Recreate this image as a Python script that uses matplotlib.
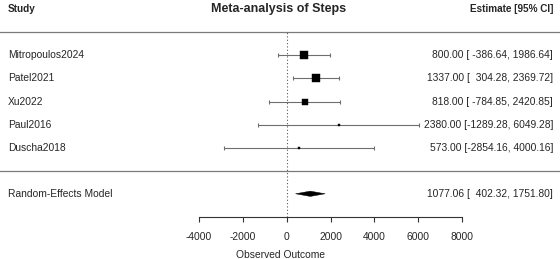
import matplotlib
matplotlib.use("Agg")
import matplotlib.pyplot as plt
import matplotlib.transforms as mtransforms
import numpy as np

plt.rcParams['font.family'] = ['Liberation Sans', 'DejaVu Sans']

# ---- data ----
studies = ["Mitropoulos2024", "Patel2021", "Xu2022", "Paul2016", "Duscha2018"]
estimates = [800.00, 1337.00, 818.00, 2380.00, 573.00]
ci_lower = [-386.64, 304.28, -784.85, -1289.28, -2854.16]
ci_upper = [1986.64, 2369.72, 2420.85, 6049.28, 4000.16]
re_label = "Random-Effects Model"
re_est = 1077.06
re_lower = 402.32
re_upper = 1751.80
xticks = [-4000, -2000, 0, 2000, 4000, 6000, 8000]
title = "Meta-analysis of Steps"
xlabel = "Observed Outcome"

# inverse-variance weights derived from the CIs (used for square sizes)
se = [(u - l) / 3.92 for l, u in zip(ci_lower, ci_upper)]
weights = [1 / s**2 for s in se]

k = len(studies)
rows = list(range(k, 0, -1))

fig = plt.figure(figsize=(5.6, 2.59), dpi=100)
ax = fig.add_axes([0, 0, 1, 1])

# pixel mapping: x=0 at px 286.7, 12000 units = 263.2 px
ppu = 263.2 / 12000
ax.set_xlim(-286.7 / ppu, (560 - 286.7) / ppu)
rowpx = 23.07
ax.set_ylim(-(259 - 170.7) / rowpx, 6 + 32.3 / rowpx)

line_col = '#7a7a7a'
txt_col = '#262626'
ci_col = '#6e6e6e'

# horizontal separators
ax.axhline(k + 1, color=line_col, lw=0.9)
ax.axhline(0, color=line_col, lw=0.9)

# reference line at 0
ax.plot([0, 0], [-2, k + 1], color='#555555', lw=0.8, linestyle=(0, (1, 2)))

# CIs
ax.errorbar(estimates, rows,
            xerr=[np.array(estimates) - np.array(ci_lower),
                  np.array(ci_upper) - np.array(estimates)],
            fmt='none', ecolor=ci_col, elinewidth=0.8, capsize=1.6, capthick=0.8)

wmax = max(weights)
for x, y, w in zip(estimates, rows, weights):
    ax.plot(x, y, marker='s', markersize=6.3 * np.sqrt(w / wmax),
            color='black', mec='black', mew=0.3, linestyle='none')

# summary diamond
h = 0.115
ax.fill([re_lower, re_est, re_upper, re_est], [-1, -1 + h, -1, -1 - h],
        color='black', lw=0.3, edgecolor='black')

# text
trans = mtransforms.blended_transform_factory(ax.transAxes, ax.transData)
fs = 7.4
for s, y in zip(studies, rows):
    ax.text(8 / 560, y, s, transform=trans, ha='left', va='center', fontsize=fs, color=txt_col)
ax.text(8 / 560, -1, re_label, transform=trans, ha='left', va='center', fontsize=fs, color=txt_col)

for e, l, u, y in zip(estimates, ci_lower, ci_upper, rows):
    ax.text(553 / 560, y, f"{e:.2f} [{l:8.2f}, {u:7.2f}]", transform=trans,
            ha='right', va='center', fontsize=fs, color=txt_col)
ax.text(553 / 560, -1, f"{re_est:.2f} [{re_lower:8.2f}, {re_upper:7.2f}]", transform=trans,
        ha='right', va='center', fontsize=fs, color=txt_col)

ax.text(8 / 560, k + 2, "Study", transform=trans, ha='left', va='center',
        fontsize=7.2, fontweight='bold', color=txt_col)
ax.text(553 / 560, k + 2, "Estimate [95% CI]", transform=trans, ha='right', va='center',
        fontsize=7.2, fontweight='bold', color=txt_col)
ax.text(278.5 / 560, 6 + (32.3 - 9.5) / rowpx, title, transform=trans, ha='center', va='center',
        fontsize=9, fontweight='bold', color=txt_col)

# x axis
for sp in ['top', 'right', 'left']:
    ax.spines[sp].set_visible(False)
ax.spines['bottom'].set_position(('data', -2))
ax.spines['bottom'].set_bounds(xticks[0], xticks[-1])
ax.spines['bottom'].set_color('#333333')
ax.spines['bottom'].set_linewidth(0.8)
ax.set_xticks(xticks)
ax.set_xticklabels([str(t) for t in xticks])
ax.tick_params(axis='x', direction='out', length=3.6, width=0.8, color='#333333',
               labelsize=fs, labelcolor=txt_col, pad=7)
ax.set_yticks([])
ax.set_xlabel(xlabel, fontsize=fs, color=txt_col, labelpad=6)
ax.patch.set_visible(False)

fig.savefig("out.png", dpi=100)
